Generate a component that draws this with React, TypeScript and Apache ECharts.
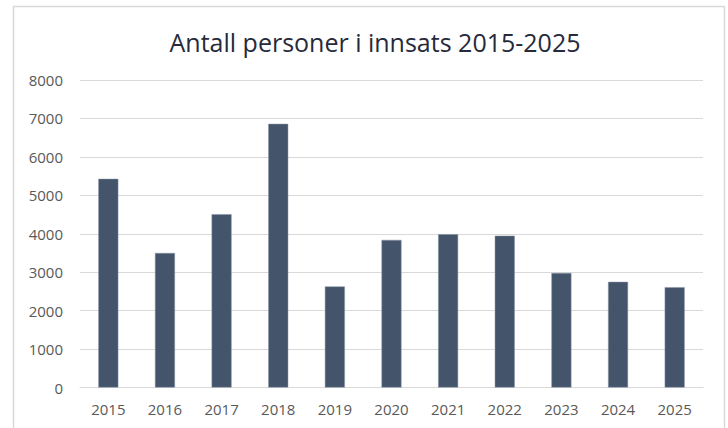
import React, { useEffect, useRef } from "react";
import * as echarts from "echarts";

const categories = ["2015", "2016", "2017", "2018", "2019", "2020", "2021", "2022", "2023", "2024", "2025"];
const values = [5430, 3500, 4510, 6860, 2630, 3840, 3990, 3950, 2980, 2750, 2610];
const titleText = "Antall personer i innsats 2015-2025";

export default function App() {
  const ref = useRef<HTMLDivElement>(null);
  useEffect(() => {
    document.body.style.margin = "0";
    const chart = echarts.init(ref.current!, null, { renderer: "svg" });
    chart.setOption({
      animation: false,
      backgroundColor: "#ffffff",
      title: {
        text: titleText,
        left: 370,
        textAlign: "center",
        top: 24,
        textStyle: { fontFamily: "Open Sans", fontSize: 25, fontWeight: "normal", color: "#262a3a" },
      },
      graphic: [
        {
          type: "rect",
          shape: { x: 13.5, y: 6.5, width: 711, height: 440 },
          style: { fill: "none", stroke: "#d9d9d9", lineWidth: 1.5 },
          silent: true,
        },
      ],
      grid: { left: 80, right: 25, top: 80, bottom: 40.5 },
      xAxis: {
        type: "category",
        data: categories,
        axisLine: { show: true, lineStyle: { color: "#d9d9d9", width: 1 } },
        axisTick: { show: false },
        axisLabel: { color: "#595959", fontFamily: "Open Sans", fontSize: 15, margin: 14 },
      },
      yAxis: {
        type: "value",
        min: 0,
        max: 8000,
        interval: 1000,
        axisLine: { show: false },
        axisTick: { show: false },
        splitLine: { lineStyle: { color: "#d9d9d9", width: 1 } },
        axisLabel: {
          color: "#595959",
          fontFamily: "Open Sans",
          fontSize: 15,
          margin: 17,
          formatter: (v: number) => String(v),
        },
      },
      series: [
        {
          type: "bar",
          data: values,
          barWidth: 20,
          itemStyle: { color: "#44546a", borderColor: "#8a96a8", borderWidth: 0.5 },
        },
      ],
    });
    return () => chart.dispose();
  }, []);
  return <div ref={ref} style={{ width: 728, height: 428 }} />;
}
